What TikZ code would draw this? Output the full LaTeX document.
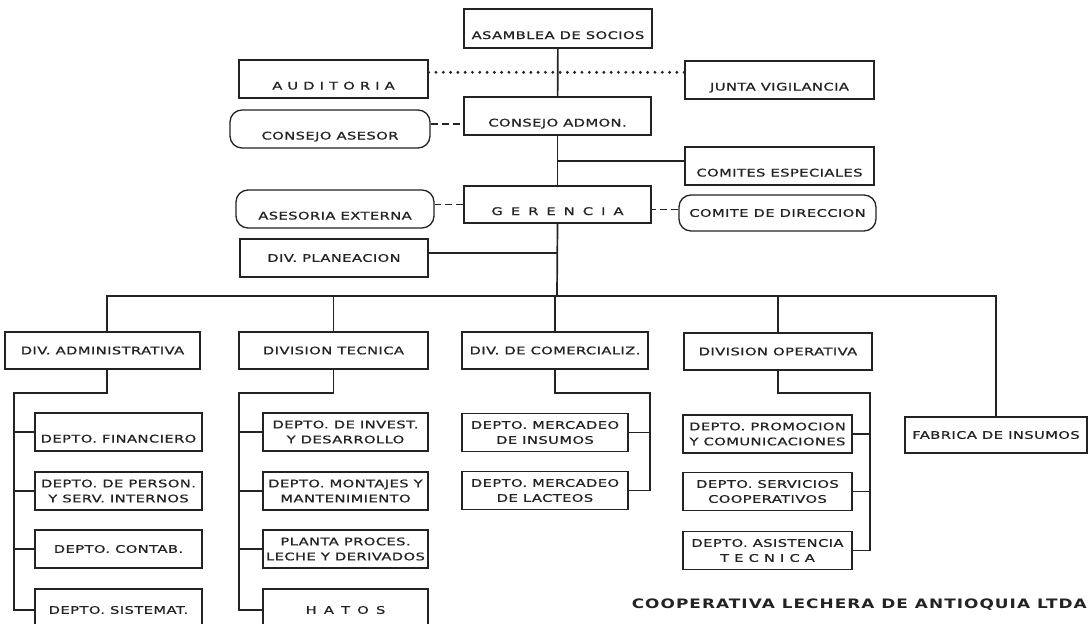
\documentclass[tikz,border=0pt]{standalone}
\usepackage{fontspec}
\usepackage{tikz}
\newfontfamily\chartfont[FakeStretch=1.4,LetterSpace=4,FakeBold=0.8]{DejaVu Sans}
\newfontfamily\titlefont[FakeStretch=1.3,LetterSpace=8]{DejaVu Sans}
\definecolor{ink}{HTML}{232323}

\begin{document}
\begin{tikzpicture}[x=1pt,y=-1pt]
  \tikzstyle{orgBox} = [draw=ink, line width=1.3pt, fill=white, rectangle, minimum height=38pt, inner sep=1pt, align=center, text=ink, font={\chartfont\fontsize{10.5}{15}\selectfont}];
  \tikzstyle{softBox} = [orgBox, rounded corners=12pt];
  \tikzstyle{lowText} = [text height=21pt, text depth=0pt];
  \tikzstyle{orgLink} = [ink, line width=1.7pt];
  \tikzstyle{dashLink} = [orgLink, dash pattern=on 7pt off 4pt];
  \tikzstyle{dotLink} = [ink, line width=3.2pt, line cap=round, dash pattern=on 0pt off 7.3pt];

  \useasboundingbox (0,0) rectangle (1088,624);
  \clip (0,0) rectangle (1088,624);

  % upper levels
  \node[orgBox, lowText, minimum width=188pt, minimum height=39pt] (asamblea) at (558,28.5) {ASAMBLEA DE SOCIOS};
  \node[orgBox, lowText, minimum width=189pt] (auditoria) at (333.5,79) {A U D I T O R I A};
  \node[orgBox, lowText, minimum width=189pt] (junta) at (779.5,80) {JUNTA VIGILANCIA};
  \node[orgBox, lowText, minimum width=187pt] (consejoAdmon) at (557.5,116) {CONSEJO ADMON.};
  \node[softBox, lowText, minimum width=200pt] (consejoAsesor) at (330,129) {CONSEJO ASESOR};
  \node[orgBox, lowText, minimum width=189pt] (comites) at (779.5,166) {COMITES ESPECIALES};
  \node[orgBox, lowText, minimum width=187pt, minimum height=37pt, font={\chartfont\fontsize{10.5}{15}\selectfont\addfontfeature{LetterSpace=32}}] (gerencia) at (557.5,204.5) {G E R E N C I A};
  \node[softBox, lowText, minimum width=198pt] (asesoriaExt) at (335,209) {ASESORIA EXTERNA};
  \node[softBox, minimum width=197pt, minimum height=36pt] (comiteDir) at (777.5,213) {COMITE DE DIRECCION};
  \node[orgBox, minimum width=188pt] (divPlan) at (334,258) {DIV. PLANEACION};

  % divisions
  \node[orgBox, minimum width=195pt, minimum height=37pt] (divAdmin) at (102.5,350.5) {DIV. ADMINISTRATIVA};
  \node[orgBox, minimum width=189pt, minimum height=37pt] (divTec) at (333.5,350.5) {DIVISION TECNICA};
  \node[orgBox, minimum width=186pt, minimum height=37pt] (divCom) at (555,350.5) {DIV. DE COMERCIALIZ.};
  \node[orgBox, minimum width=188pt, minimum height=37pt] (divOper) at (778,351.5) {DIVISION OPERATIVA};

  % departments
  \node[orgBox, lowText, minimum width=167pt] (admFin) at (118.5,432) {DEPTO. FINANCIERO};
  \node[orgBox, minimum width=167pt] (admPer) at (118.5,491) {DEPTO. DE PERSON.\\Y SERV. INTERNOS};
  \node[orgBox, minimum width=167pt] (admCon) at (118.5,549) {DEPTO. CONTAB.};
  \node[orgBox, minimum width=167pt, minimum height=42pt] (admSis) at (118.5,610) {DEPTO. SISTEMAT.};

  \node[orgBox, minimum width=165pt] (tecInv) at (345.5,432) {DEPTO. DE INVEST.\\Y DESARROLLO};
  \node[orgBox, minimum width=165pt] (tecMon) at (345.5,491) {DEPTO. MONTAJES Y\\MANTENIMIENTO};
  \node[orgBox, minimum width=165pt] (tecPla) at (345.5,549) {PLANTA PROCES.\\LECHE Y DERIVADOS};
  \node[orgBox, minimum width=165pt, minimum height=42pt, font={\chartfont\fontsize{10.5}{15}\selectfont\addfontfeature{LetterSpace=24}}] (tecHat) at (345.5,610) {H A T O S};

  \node[orgBox, minimum width=166pt] (comIns) at (545,432.5) {DEPTO. MERCADEO\\DE INSUMOS};
  \node[orgBox, minimum width=166pt] (comLac) at (545,490.5) {DEPTO. MERCADEO\\DE LACTEOS};

  \node[orgBox, minimum width=169pt] (opePro) at (767.5,434) {DEPTO. PROMOCION\\Y COMUNICACIONES};
  \node[orgBox, minimum width=169pt] (opeSer) at (767.5,491.5) {DEPTO. SERVICIOS\\COOPERATIVOS};
  \node[orgBox, minimum width=169pt] (opeAsi) at (767.5,550.5) {DEPTO. ASISTENCIA\\T E C N I C A};

  \node[orgBox, minimum width=182pt, minimum height=36pt] (fabrica) at (996,435) {FABRICA DE INSUMOS};

  \node[anchor=base east, inner sep=0pt, text=ink, font={\titlefont\bfseries\fontsize{13}{15}\selectfont}] (titulo) at (1087,608) {COOPERATIVA LECHERA DE ANTIOQUIA LTDA};

  % turning points of the lines
  \coordinate (bus) at (557,296);
  \coordinate (admTurn) at (14,393);
  \coordinate (tecTurn) at (239,393);
  \coordinate (comTurn) at (650,393);
  \coordinate (opeTurn) at (870,393);

  % staff lines
  \draw[dotLink] (auditoria.4) -- (auditoria.4 -| junta.west);
  \draw[dashLink] (consejoAsesor.3) -- (consejoAsesor.3 -| consejoAdmon.west);
  \draw[dashLink] (gerencia.west) -- (gerencia.west -| asesoriaExt.east);
  \draw[dashLink] (comiteDir.178) -- (comiteDir.178 -| gerencia.east);

  % line of command
  \draw[orgLink] (asamblea) -- (consejoAdmon);
  \draw[orgLink] (consejoAdmon) -- (gerencia);
  \draw[orgLink] (consejoAdmon.south) |- (comites.177);
  \draw[orgLink] (divPlan.3) -- (divPlan.3 -| gerencia.south);
  \draw[orgLink] (gerencia.south) -- (bus);
  \draw[orgLink] ([xshift=4.5pt]divAdmin.north) |- (bus) -| (fabrica.north);
  \draw[orgLink] (divTec.north) -- (divTec.north |- bus);
  \draw[orgLink] (divCom.north) -- (divCom.north |- bus);
  \draw[orgLink] (divOper.north) -- (divOper.north |- bus);

  \draw[orgLink] ([xshift=4.5pt]divAdmin.south) |- (admTurn) |- (admSis.west);
  \draw[orgLink] (admTurn |- admFin.west) -- (admFin.west);
  \draw[orgLink] (admTurn |- admPer.west) -- (admPer.west);
  \draw[orgLink] (admTurn |- admCon.west) -- (admCon.west);

  \draw[orgLink] (divTec.south) |- (tecTurn) |- (tecHat.west);
  \draw[orgLink] (tecTurn |- tecInv.west) -- (tecInv.west);
  \draw[orgLink] (tecTurn |- tecMon.west) -- (tecMon.west);
  \draw[orgLink] (tecTurn |- tecPla.west) -- (tecPla.west);

  \draw[orgLink] (divCom.south) |- (comTurn) |- (comLac.east);
  \draw[orgLink] (comTurn |- comIns.east) -- (comIns.east);

  \draw[orgLink] (divOper.south) |- (opeTurn) |- (opeAsi.east);
  \draw[orgLink] (opeTurn |- opePro.east) -- (opePro.east);
  \draw[orgLink] (opeTurn |- opeSer.east) -- (opeSer.east);
\end{tikzpicture}
\end{document}
